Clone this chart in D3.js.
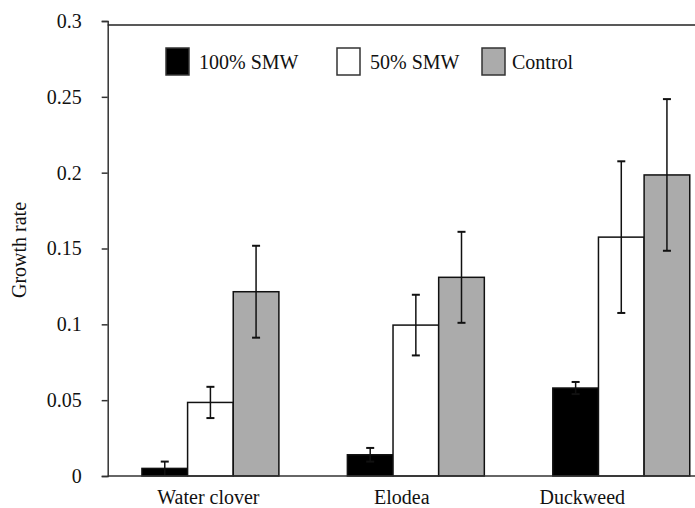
<!DOCTYPE html>
<html>
<head>
<meta charset="utf-8">
<script src="https://cdn.jsdelivr.net/npm/d3@7"></script>
<style>
  body { margin: 0; background: #fff; }
  svg text { font-family: "Liberation Serif", Tinos, "Times New Roman", Times, "DejaVu Serif", serif !important; fill: #111; }
</style>
</head>
<body>
<svg id="chart" width="695" height="508"></svg>
<script>
// Data
const categories = ["Water clover", "Elodea", "Duckweed"];
const seriesNames = ["100% SMW", "50% SMW", "Control"];
const smw100 = [0.005, 0.014, 0.058];
const smw100Err = [0.0045, 0.0045, 0.004];
const smw50 = [0.0485, 0.0995, 0.1575];
const smw50Err = [0.0103, 0.02, 0.05];
const control = [0.1215, 0.131, 0.1985];
const controlErr = [0.0303, 0.03, 0.05];
const yTicks = [0, 0.05, 0.1, 0.15, 0.2, 0.25, 0.3];

const values = [smw100, smw50, control];
const errors = [smw100Err, smw50Err, controlErr];
const fills = ["#000000", "#ffffff", "#ababab"];

const svg = d3.select("#chart");
const serif = "'Liberation Serif', Tinos, 'Times New Roman', Times, 'DejaVu Serif', serif";

// Layout (plot runs past the right edge, like the cropped original)
const plotLeft = 107.7, plotBottom = 476, plotTop = 21, plotRight = 724;
// small shifts of the category labels seen in the picture
const labelShift = [-2, -14, -39];

const y = d3.scaleLinear().domain([0, 0.3]).range([plotBottom, plotTop]);
const x0 = d3.scaleBand().domain(categories).range([plotLeft, plotRight])
  .paddingInner(1 / 3).paddingOuter(1 / 6);
const x1 = d3.scaleBand().domain(seriesNames).range([0, x0.bandwidth()]);

// Flatten into bar records
const bars = [];
seriesNames.forEach((s, i) => {
  categories.forEach((c, j) => {
    bars.push({ series: s, cat: c, value: values[i][j], err: errors[i][j], fill: fills[i] });
  });
});

// Bars
svg.append("g").selectAll("rect")
  .data(bars)
  .enter().append("rect")
  .attr("x", d => x0(d.cat) + x1(d.series))
  .attr("y", d => y(d.value))
  .attr("width", x1.bandwidth())
  .attr("height", d => y(0) - y(d.value))
  .style("fill", d => d.fill)
  .style("stroke", "#111")
  .style("stroke-width", 1.5);

// Error bars
const eb = svg.append("g").selectAll("g")
  .data(bars)
  .enter().append("g")
  .attr("transform", d => `translate(${x0(d.cat) + x1(d.series) + x1.bandwidth() / 2},0)`)
  .style("stroke", "#111")
  .style("stroke-width", 1.5);

eb.append("line")
  .attr("y1", d => y(d.value + d.err))
  .attr("y2", d => y(Math.max(0, d.value - d.err)));
eb.append("line")
  .attr("x1", -4).attr("x2", 4)
  .attr("y1", d => y(d.value + d.err))
  .attr("y2", d => y(d.value + d.err))
  .style("stroke-width", 2);
eb.filter(d => d.value - d.err > 0.001).append("line")
  .attr("x1", -4).attr("x2", 4)
  .attr("y1", d => y(d.value - d.err))
  .attr("y2", d => y(d.value - d.err))
  .style("stroke-width", 2);

// Y axis
const yAxis = svg.append("g")
  .attr("transform", `translate(${plotLeft},0)`)
  .call(d3.axisLeft(y).tickValues(yTicks).tickFormat(d => String(+d.toFixed(2))).tickSize(6).tickPadding(20));
yAxis.attr("font-family", serif);
yAxis.selectAll("path, line").style("stroke", "#333").style("stroke-width", 1.5);
yAxis.selectAll("text")
  .style("font-family", serif)
  .style("font-size", "20px")
  .style("fill", "#111");

// X axis line and top frame line
svg.append("line")
  .attr("x1", plotLeft).attr("x2", 695)
  .attr("y1", y(0)).attr("y2", y(0))
  .style("stroke", "#333").style("stroke-width", 1.5);
svg.append("line")
  .attr("x1", plotLeft).attr("x2", 695)
  .attr("y1", y(0.3) + 4).attr("y2", y(0.3) + 4)
  .style("stroke", "#222").style("stroke-width", 1.5);

// Category labels
svg.append("g").selectAll("text")
  .data(categories)
  .enter().append("text")
  .attr("x", (d, i) => x0(d) + x0.bandwidth() / 2 + labelShift[i])
  .attr("y", 504)
  .attr("text-anchor", "middle")
  .style("font-family", serif)
  .style("font-size", "20px")
  .text(d => d);

// Y label
svg.append("text")
  .attr("transform", "translate(26,250) rotate(-90)")
  .attr("text-anchor", "middle")
  .style("font-family", serif)
  .style("font-size", "20px")
  .text("Growth rate");

// Legend
const legendX = [166, 337, 482];
const legend = svg.append("g").selectAll("g")
  .data(seriesNames)
  .enter().append("g")
  .attr("transform", (d, i) => `translate(${legendX[i]},48)`);
legend.append("rect")
  .attr("width", 23).attr("height", 27)
  .style("fill", (d, i) => fills[i])
  .style("stroke", "#333").style("stroke-width", 1.5);
legend.append("text")
  .attr("x", (d, i) => i === 2 ? 30 : 33)
  .attr("y", 21)
  .style("font-family", serif)
  .style("font-size", "20px")
  .text(d => d);
</script>
</body>
</html>
